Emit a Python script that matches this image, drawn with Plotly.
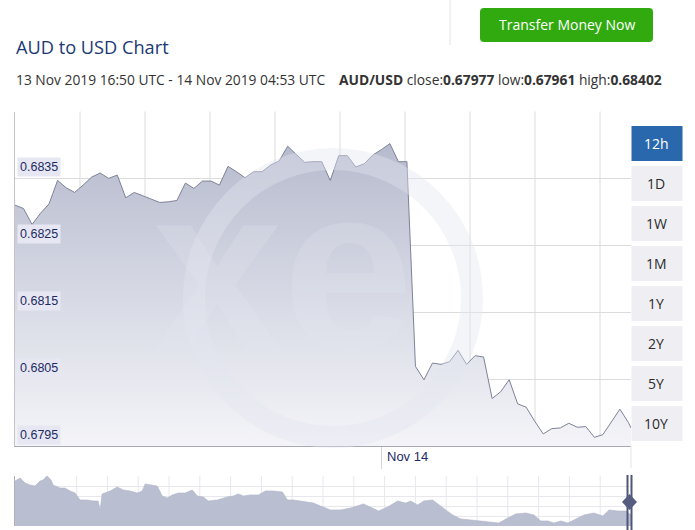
import plotly.graph_objects as go
import pandas as pd

# ---------------- data ----------------
start_time = "2019-11-13 16:50"
end_time = "2019-11-14 04:53"
rate_times = list(pd.date_range("2019-11-13 16:50", "2019-11-14 04:50", freq="10min").strftime("%Y-%m-%d %H:%M")) + ["2019-11-14 04:53"]
rate_values = [
    0.68310, 0.68305, 0.68281, 0.68298, 0.68312, 0.68347, 0.68336, 0.68329, 0.68340, 0.68352,
    0.68358, 0.68350, 0.68355, 0.68321, 0.68329, 0.68324, 0.68320, 0.68314, 0.68315, 0.68317,
    0.68343, 0.68335, 0.68346, 0.68346, 0.68340, 0.68368, 0.68360, 0.68351, 0.68360, 0.68360,
    0.68370, 0.68376, 0.68398, 0.68386, 0.68374, 0.68375, 0.68375, 0.68347, 0.68384, 0.68384,
    0.68367, 0.68372, 0.68385, 0.68393, 0.68402, 0.68375, 0.68375, 0.68069, 0.68049, 0.68074,
    0.68072, 0.68076, 0.68093, 0.68072, 0.68085, 0.68083, 0.68021, 0.68031, 0.68049, 0.68013,
    0.68008, 0.67987, 0.67968, 0.67976, 0.67977, 0.67984, 0.67978, 0.67979, 0.67963, 0.67967,
    0.67987, 0.68005, 0.67985, 0.67977,
]
y_ticks = [0.6795, 0.6805, 0.6815, 0.6825, 0.6835]
y_tick_labels = ["0.6795", "0.6805", "0.6815", "0.6825", "0.6835"]
x_tick = "2019-11-14 00:00"
x_tick_label = "Nov 14"

# navigator (long history overview)
nav_x = [0, 5, 10, 15, 20, 25, 28, 32, 36, 38, 45, 50, 55, 60, 65, 72, 78, 83, 85, 87,
         95, 102, 108, 115, 122, 127, 130, 137, 142, 147, 152, 157, 163, 170, 177, 182, 188, 193, 202, 212,
         218, 223, 228, 235, 243, 250, 258, 267, 272, 278, 285, 292, 298, 305, 310, 315, 325, 335, 348, 355,
         363, 372, 382, 390, 395, 402, 408, 417, 423, 430, 437, 445, 455, 465, 475, 483, 492, 500, 510, 518,
         525, 532, 538, 545, 552, 558, 568, 578, 587, 593, 602, 610, 615]
nav_values = [0.7056, 0.7079, 0.7040, 0.7025, 0.7017, 0.7056, 0.7064, 0.7095, 0.7064, 0.7025,
              0.7001, 0.7001, 0.6978, 0.6962, 0.6908, 0.6908, 0.6900, 0.6900, 0.6830, 0.6955,
              0.6978, 0.7009, 0.6986, 0.6978, 0.6962, 0.6978, 0.7033, 0.7025, 0.7017, 0.6939,
              0.6923, 0.6947, 0.6962, 0.6962, 0.6986, 0.6939, 0.6931, 0.6900, 0.6908, 0.6931,
              0.6939, 0.6955, 0.6939, 0.6947, 0.6947, 0.6978, 0.6978, 0.6970, 0.6908, 0.6908,
              0.6900, 0.6892, 0.6884, 0.6861, 0.6845, 0.6830, 0.6830, 0.6845, 0.6877, 0.6853,
              0.6822, 0.6853, 0.6900, 0.6884, 0.6900, 0.6869, 0.6900, 0.6908, 0.6869, 0.6830,
              0.6791, 0.6760, 0.6752, 0.6744, 0.6736, 0.6728, 0.6767, 0.6799, 0.6806, 0.6791,
              0.6744, 0.6744, 0.6728, 0.6744, 0.6728, 0.6752, 0.6791, 0.6806, 0.6783, 0.6830,
              0.6822, 0.6822, 0.6791]

range_buttons = ["12h", "1D", "1W", "1M", "1Y", "2Y", "5Y", "10Y"]

title_text = "AUD to USD Chart"
period_text = "13 Nov 2019 16:50 UTC - 14 Nov 2019 04:53 UTC"
stats_text = "<b>AUD/USD</b> close:<b>0.67977</b> low:<b>0.67961</b> high:<b>0.68402</b>"
button_text = "Transfer Money Now"

# ---------------- layout helpers ----------------
W, H = 695, 530
def fx(p):
    return p / W
def fy(p):
    return 1 - p / H

UI_FONT = "Open Sans"
AX_FONT = "Liberation Sans, Arial"
NAVY = "#1e2b63"

fig = go.Figure()

fig.add_trace(go.Scatter(
    x=rate_times, y=rate_values, mode="lines",
    line=dict(color="#7d8299", width=1),
    fill="tozeroy",
    fillgradient=dict(type="vertical", start=0.6795, stop=0.6845,
                      colorscale=[[0, "#f4f4f8"], [0.5, "#d3d6e2"], [1, "#afb4c8"]]),
    xaxis="x", yaxis="y", hoverinfo="skip", showlegend=False,
))

fig.add_trace(go.Scatter(
    x=nav_x, y=nav_values, mode="lines",
    line=dict(color="#aeb3c7", width=0.6),
    fill="tozeroy", fillcolor="#b9bed1",
    xaxis="x3", yaxis="y3", hoverinfo="skip", showlegend=False,
))

nav_top, nav_bottom = 0.7095, 0.6705

fig.update_layout(
    width=W, height=H, autosize=False,
    margin=dict(l=0, r=0, t=0, b=0),
    paper_bgcolor="white", plot_bgcolor="rgba(0,0,0,0)",
    xaxis=dict(domain=[fx(15), fx(631)], range=[start_time, end_time], type="date",
               showgrid=False, zeroline=False, showline=True, linecolor="#a6a8b8", linewidth=1,
               tickvals=[x_tick], ticktext=[""], ticks="outside", ticklen=22, tickcolor="#d6d6d6",
               tickwidth=1, showticklabels=False, anchor="y", fixedrange=True),
    yaxis=dict(domain=[fy(446), fy(111.5)], range=[0.6795, 0.6845], tick0=0.6795, dtick=0.001,
               showgrid=True, gridcolor="#dcdcdc", gridwidth=1, zeroline=False,
               showline=True, linecolor="#c4c4c8", showticklabels=False, ticks="", anchor="x"),
    xaxis3=dict(domain=[fx(15), fx(631)], range=[0, 615], showgrid=False, zeroline=False,
                showticklabels=False, ticks="", showline=False, anchor="y3"),
    yaxis3=dict(domain=[fy(526), fy(476)], range=[nav_bottom, nav_top], tick0=nav_bottom,
                dtick=(nav_top - nav_bottom) / 5, showgrid=True, gridcolor="#e8e8ec",
                zeroline=False, showticklabels=False, ticks="", showline=True,
                linecolor="#b0b0b8", anchor="x3"),
)

shapes = []
# vertical grid lines of main chart
for k in range(1, 10):
    shapes.append(dict(type="line", xref="x domain", yref="y domain",
                       x0=k * 65 / 616, x1=k * 65 / 616, y0=0, y1=1,
                       line=dict(color="#dcdcdc", width=1), layer="below"))
# vertical grid lines of navigator
for k in range(1, 20):
    shapes.append(dict(type="line", xref="x3 domain", yref="y3 domain",
                       x0=k * 30.8 / 616, x1=k * 30.8 / 616, y0=0, y1=1,
                       line=dict(color="#e8e8ec", width=1), layer="below"))
# right edge tick mark below chart
shapes.append(dict(type="line", xref="paper", yref="paper", x0=fx(631), x1=fx(631),
                   y0=fy(446), y1=fy(468), line=dict(color="#e6e6e6", width=1)))
# watermark ring
r = 139
shapes.append(dict(type="circle", xref="paper", yref="paper",
                   x0=fx(333 - r), x1=fx(333 + r), y0=fy(298 + r), y1=fy(298 - r),
                   line=dict(color="rgba(228,230,240,0.4)", width=22), layer="above"))
# navigator handle
for hx in (627.5, 631.5):
    shapes.append(dict(type="line", xref="paper", yref="paper", x0=fx(hx), x1=fx(hx),
                       y0=fy(530), y1=fy(475), line=dict(color="#4f5679", width=2)))
shapes.append(dict(type="path", xref="paper", yref="paper",
                   path=f"M {fx(629.5)} {fy(494)} L {fx(637)} {fy(502)} L {fx(629.5)} {fy(510)} L {fx(622)} {fy(502)} Z",
                   fillcolor="#555c80", line=dict(width=0)))
# header separator
shapes.append(dict(type="line", xref="paper", yref="paper", x0=fx(450), x1=fx(450),
                   y0=fy(45), y1=fy(0), line=dict(color="#e2e2e2", width=1)))
# green button with rounded corners
bx0, bx1, by0, by1, rr = 480, 653, 8, 42, 4
path = (f"M {fx(bx0+rr)} {fy(by0)} L {fx(bx1-rr)} {fy(by0)} Q {fx(bx1)} {fy(by0)} {fx(bx1)} {fy(by0+rr)} "
        f"L {fx(bx1)} {fy(by1-rr)} Q {fx(bx1)} {fy(by1)} {fx(bx1-rr)} {fy(by1)} "
        f"L {fx(bx0+rr)} {fy(by1)} Q {fx(bx0)} {fy(by1)} {fx(bx0)} {fy(by1-rr)} "
        f"L {fx(bx0)} {fy(by0+rr)} Q {fx(bx0)} {fy(by0)} {fx(bx0+rr)} {fy(by0)} Z")
shapes.append(dict(type="path", xref="paper", yref="paper", path=path,
                   fillcolor="#31aa10", line=dict(width=0)))
# range buttons
for i, lab in enumerate(range_buttons):
    top = 126 + 40 * i
    shapes.append(dict(type="rect", xref="paper", yref="paper",
                       x0=fx(631.5), x1=fx(682.5), y0=fy(top + 35), y1=fy(top),
                       fillcolor="#2a68ad" if i == 0 else "#efeff3", line=dict(width=0)))

annotations = []
# watermark letters
annotations.append(dict(text="<b>xe</b>", xref="paper", yref="paper", x=fx(282), y=fy(268),
                        xanchor="center", yanchor="middle", showarrow=False,
                        font=dict(family="Liberation Sans, Arial", size=235, color="rgba(228,230,240,0.25)")))
# y tick labels inside the chart
for v, t in zip(y_ticks, y_tick_labels):
    annotations.append(dict(text=t, xref="paper", yref="y", x=fx(17), y=v,
                            xanchor="left", yanchor="bottom", yshift=1, showarrow=False,
                            bgcolor="#e6e7f2", borderpad=2,
                            font=dict(family=AX_FONT, size=12.5, color=NAVY)))
# x tick label
annotations.append(dict(text=x_tick_label, xref="x", yref="paper", x=x_tick, y=fy(456),
                        xanchor="left", yanchor="middle", xshift=4, showarrow=False,
                        font=dict(family=AX_FONT, size=13, color=NAVY)))
# range button labels
for i, lab in enumerate(range_buttons):
    top = 126 + 40 * i
    annotations.append(dict(text=lab, xref="paper", yref="paper", x=fx(656), y=fy(top + 17.5),
                            xanchor="center", yanchor="middle", showarrow=False,
                            font=dict(family=UI_FONT, size=14, color="white" if i == 0 else "#2b2b2b")))
# header texts
annotations.append(dict(text=title_text, xref="paper", yref="paper", x=fx(14), y=fy(47),
                        xanchor="left", yanchor="middle", showarrow=False,
                        font=dict(family=UI_FONT, size=18.2, color="#1b3a72")))
annotations.append(dict(text=period_text, xref="paper", yref="paper", x=fx(14), y=fy(80),
                        xanchor="left", yanchor="middle", showarrow=False,
                        font=dict(family=UI_FONT, size=13.8, color="#333333")))
annotations.append(dict(text=stats_text, xref="paper", yref="paper", x=fx(337), y=fy(80),
                        xanchor="left", yanchor="middle", showarrow=False,
                        font=dict(family=UI_FONT, size=13.8, color="#333333")))
annotations.append(dict(text=button_text, xref="paper", yref="paper", x=fx(566.5), y=fy(25),
                        xanchor="center", yanchor="middle", showarrow=False,
                        font=dict(family=UI_FONT, size=14, color="white")))

fig.update_layout(shapes=shapes, annotations=annotations)

fig.write_html("out.html", config={"displayModeBar": False},
               post_script="document.body.style.margin='0';document.body.style.overflow='hidden';")
